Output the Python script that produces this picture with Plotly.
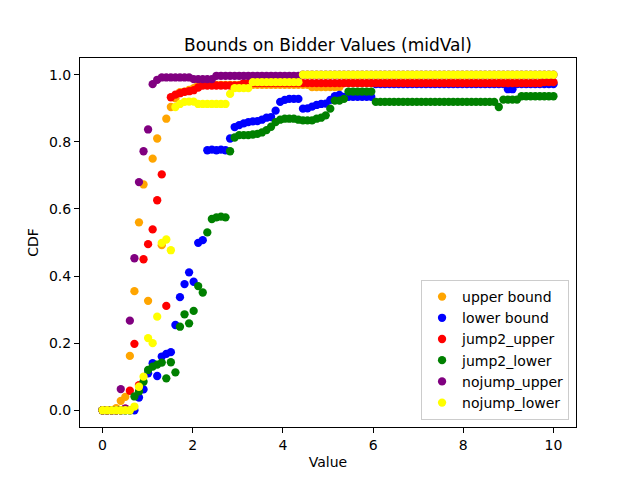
import numpy as np
import plotly.graph_objects as go

# grid of bidder values (100 points from 0 to 10)
value_grid = np.linspace(0, 10, 100)

upper_bound = [0, 0, 0, 0.006, 0.028, 0.04, 0.162, 0.355, 0.56, 0.673,
               0.326, 0.75, 0.81, 0.492, 0.869, 0.904, 0.93, 0.948, 0.95, 0.955,
               0.96] + [0.97] * 25 + [0.963] * 7 + [0.975] * 47

lower_bound = [0] * 8 + [0.038, 0.062, 0.11, 0.14, 0.102, 0.16, 0.168, 0.173, 0.254, 0.337,
                         0.376, 0.411, 0.383, 0.499, 0.507, 0.775, 0.777, 0.775, 0.777, 0.775,
                         0.81, 0.844, 0.85, 0.855, 0.859, 0.861, 0.862, 0.866, 0.872, 0.874,
                         0.893, 0.919, 0.925, 0.928, 0.928, 0.928, 0.899, 0.9, 0.905, 0.91,
                         0.913, 0.914, 0.925, 0.936, 0.94] \
    + [0.934] * 7 + [0.972] * 29 + [0.957] * 2 + [0.972] * 9

jump2_upper = [0] * 5 + [0.005, 0.058, 0.198, 0.075, 0.45, 0.495, 0.539, 0.626, 0.703, 0.311,
                         0.933, 0.941, 0.945, 0.949, 0.951, 0.954, 0.962] \
    + [0.968] * 9 + [0.975] * 66 + [0.978] * 3

jump2_lower = [0] * 7 + [0.041, 0.056, 0.085, 0.12, 0.13, 0.136, 0.142, 0.095, 0.143, 0.113,
                         0.249, 0.286, 0.259, 0.296, 0.37, 0.351, 0.53, 0.57, 0.575, 0.577,
                         0.575, 0.772, 0.813, 0.82, 0.82, 0.82, 0.822, 0.824, 0.828, 0.835,
                         0.845, 0.859, 0.866, 0.869, 0.869, 0.869, 0.866, 0.864, 0.864, 0.864,
                         0.869, 0.872, 0.879, 0.899, 0.923, 0.923, 0.928, 0.95] \
    + [0.95] * 5 + [0.919] * 27 + [0.904] + [0.926] * 4 + [0.936] * 8

nojump_upper = [0] * 4 + [0.063, 0.005, 0.267, 0.453, 0.68, 0.772, 0.837, 0.972, 0.985] \
    + [0.992] * 7 + [0.987] * 5 + [0.997] * 19 + [1.0] * 56

nojump_lower = [0] * 7 + [0.011, 0.07, 0.1, 0.215, 0.2, 0.279, 0.499, 0.509, 0.477,
                          0.904, 0.913, 0.919, 0.92, 0.92] \
    + [0.913] * 7 + [0.943] + [0.96] * 4 + [0.978] * 11 + [1.0] * 56

series = [
    ("upper bound", upper_bound, "orange"),
    ("lower bound", lower_bound, "blue"),
    ("jump2_upper", jump2_upper, "red"),
    ("jump2_lower", jump2_lower, "green"),
    ("nojump_upper", nojump_upper, "purple"),
    ("nojump_lower", nojump_lower, "yellow"),
]

fig = go.Figure()
for name, vals, col in series:
    fig.add_trace(go.Scatter(x=value_grid, y=vals, mode="markers", name=name,
                             marker=dict(color=col, size=8.3, line=dict(width=0))))

axis_style = dict(showgrid=False, zeroline=False, showline=True, linecolor="black",
                  linewidth=1, mirror=True, ticks="outside", ticklen=5, tickcolor="black",
                  automargin=False, tickfont=dict(size=14, color="black"))

# page body has an 8px margin, so the figure is a bit smaller than the window
W, H = 632, 472
fig.update_layout(
    width=W, height=H,
    margin=dict(l=72, r=64, t=50, b=53),
    plot_bgcolor="white", paper_bgcolor="white",
    font=dict(family="DejaVu Sans", color="black"),
    title=dict(text="Bounds on Bidder Values (midVal)", x=0.5, xref="paper",
               y=1 - 37 / H, yref="container", yanchor="middle",
               font=dict(size=17, color="black")),
    xaxis=dict(range=[-0.5, 10.5], tickvals=[0, 2, 4, 6, 8, 10],
               title=dict(text="Value", font=dict(size=14), standoff=5), **axis_style),
    yaxis=dict(range=[-0.05, 1.05], tickvals=[0, 0.2, 0.4, 0.6, 0.8, 1.0], tickformat=".1f",
               title=dict(text="CDF", font=dict(size=14), standoff=7), **axis_style),
    legend=dict(x=0.986, y=0.019, xanchor="right", yanchor="bottom",
                bgcolor="rgba(255,255,255,0.8)", bordercolor="#cccccc", borderwidth=1,
                font=dict(size=14, color="black")),
)

fig.write_html("out.html")
